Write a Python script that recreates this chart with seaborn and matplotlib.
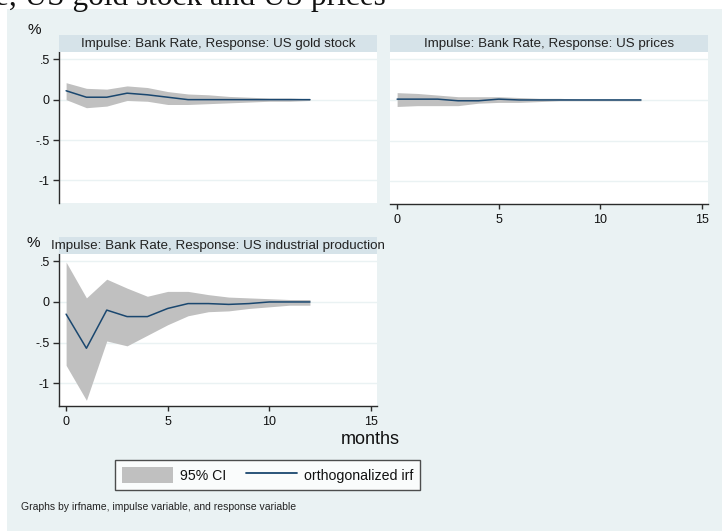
import matplotlib
matplotlib.use("Agg")
import matplotlib.pyplot as plt
from matplotlib.patches import Rectangle, Patch
from matplotlib.lines import Line2D
import seaborn as sns
import pandas as pd

# Impulse-response horizons (months)
steps = list(range(13))

# Response of US gold stock to a Bank Rate shock
gold_irf = [0.11, 0.03, 0.03, 0.08, 0.06, 0.03, 0.00, 0.00, 0.00, 0.00, 0.00, 0.00, 0.00]
gold_hi = [0.21, 0.14, 0.13, 0.17, 0.15, 0.10, 0.07, 0.06, 0.04, 0.03, 0.02, 0.02, 0.01]
gold_lo = [0.00, -0.10, -0.08, -0.01, -0.02, -0.06, -0.06, -0.05, -0.04, -0.03, -0.02, -0.02, -0.01]

# Response of US prices
prices_irf = [0.01, 0.01, 0.01, -0.01, -0.01, 0.01, 0.00, 0.00, 0.00, 0.00, 0.00, 0.00, 0.00]
prices_hi = [0.09, 0.08, 0.06, 0.04, 0.04, 0.04, 0.03, 0.02, 0.02, 0.01, 0.01, 0.01, 0.01]
prices_lo = [-0.08, -0.07, -0.07, -0.07, -0.04, -0.03, -0.03, -0.02, -0.01, -0.01, -0.01, -0.01, -0.01]

# Response of US industrial production
ip_irf = [-0.15, -0.57, -0.10, -0.18, -0.18, -0.08, -0.02, -0.02, -0.03, -0.02, 0.00, 0.00, 0.00]
ip_hi = [0.49, 0.05, 0.28, 0.17, 0.07, 0.13, 0.13, 0.09, 0.06, 0.05, 0.04, 0.03, 0.03]
ip_lo = [-0.78, -1.21, -0.48, -0.54, -0.41, -0.28, -0.17, -0.12, -0.11, -0.08, -0.06, -0.04, -0.04]

panel_titles = [
    "Impulse: Bank Rate, Response: US gold stock",
    "Impulse: Bank Rate, Response: US prices",
    "Impulse: Bank Rate, Response: US industrial production",
]
y_ticks = [0.5, 0, -0.5, -1]
y_labels = [".5", "0", "-.5", "-1"]
x_ticks = [0, 5, 10, 15]
x_labels = ["0", "5", "10", "15"]

BG = "#EAF2F3"
STRIP = "#D6E3E9"
BAND = "#C0C0C0"
NAVY = "#1A476F"
GRID = "#EAF2F3"
AXC = "#2B2B2B"

sns.set_theme(style="white")
plt.rcParams["font.family"] = ["Liberation Sans", "DejaVu Sans"]

W, H = 722, 531
fig = plt.figure(figsize=(W / 100, H / 100), dpi=100, facecolor="white")


def fx(px):
    return px / W


def fy(py):
    return 1 - py / H


# Graph region background
fig.patches.append(Rectangle((fx(7), 0), 1 - fx(7), fy(9), transform=fig.transFigure,
                             facecolor=BG, edgecolor="none", zorder=-10))

# Document caption line above the graph
fig.text(fx(-5), fy(5), "e, US gold stock and US prices", family=["Liberation Serif", "DejaVu Serif"],
         fontsize=22.5, color="#111111", ha="left", va="baseline")

XLIM = (-0.35, 15.3)
YLIM = (-1.28, 0.59)


def make_panel(left, top, bottom, title, irf, lo, hi, show_y, show_x):
    ax = fig.add_axes([fx(left), fy(bottom), fx(318), (bottom - top) / H])
    ax.set_facecolor("white")
    df = pd.DataFrame({"step": steps, "irf": irf, "lo": lo, "hi": hi})
    ax.fill_between(df["step"], df["lo"], df["hi"], color=BAND, linewidth=0, zorder=2)
    sns.lineplot(data=df, x="step", y="irf", ax=ax, color=NAVY, linewidth=1.1, zorder=3)
    ax.set_xlim(*XLIM)
    ax.set_ylim(*YLIM)
    ax.set_xlabel("")
    ax.set_ylabel("")
    for yv in y_ticks:
        ax.axhline(yv, color=GRID, linewidth=1.0, zorder=1)
    for side in ["top", "right"]:
        ax.spines[side].set_visible(False)
    ax.spines["left"].set_visible(show_y)
    ax.spines["bottom"].set_visible(show_x)
    ax.spines["left"].set_color(AXC)
    ax.spines["bottom"].set_color(AXC)
    ax.spines["left"].set_linewidth(1.0)
    ax.spines["bottom"].set_linewidth(1.0)
    if show_y:
        ax.set_yticks(y_ticks)
        ax.set_yticklabels(y_labels)
        ax.tick_params(axis="y", left=True, length=4.5, width=1.0, color=AXC,
                       labelsize=9, labelcolor="#111111", pad=2)
    else:
        ax.set_yticks([])
    if show_x:
        ax.set_xticks(x_ticks)
        ax.set_xticklabels(x_labels)
        ax.tick_params(axis="x", bottom=True, length=3.5, width=1.0, color=AXC,
                       labelsize=9, labelcolor="#111111", pad=4)
    else:
        ax.set_xticks([])
    # Title strip
    strip = fig.add_axes([fx(left), fy(top), fx(318), 17 / H])
    strip.set_facecolor(STRIP)
    strip.set_xticks([])
    strip.set_yticks([])
    for s in strip.spines.values():
        s.set_visible(False)
    strip.text(0.5, 0.45, title, ha="center", va="center", fontsize=9.6,
               color="#222222", transform=strip.transAxes, clip_on=False)
    return ax


make_panel(59, 52, 203, panel_titles[0], gold_irf, gold_lo, gold_hi, True, False)
make_panel(390, 52, 204, panel_titles[1], prices_irf, prices_lo, prices_hi, False, True)
make_panel(59, 254, 406, panel_titles[2], ip_irf, ip_lo, ip_hi, True, True)

fig.text(fx(34), fy(30), "%", ha="center", va="center", fontsize=11, color="#111111")
fig.text(fx(33), fy(243), "%", ha="center", va="center", fontsize=11, color="#111111")
fig.text(fx(370), fy(440), "months", ha="center", va="center", fontsize=13, color="#111111")

handles = [Patch(facecolor=BAND, edgecolor="none"),
           Line2D([0], [0], color=NAVY, linewidth=1.3)]
leg = fig.legend(handles, ["95% CI", "orthogonalized irf"], loc="center",
                 bbox_to_anchor=(fx(267.5), fy(475)), ncol=2, fontsize=10.2,
                 frameon=True, fancybox=False, edgecolor="#222222",
                 handlelength=3.6, handleheight=1.4, handletextpad=0.5,
                 columnspacing=1.4, borderpad=0.5, borderaxespad=0)
leg.get_frame().set_linewidth(1.0)
leg.get_frame().set_facecolor("white")
for t in leg.get_texts():
    t.set_color("#111111")

fig.text(fx(21), fy(507), "Graphs by irfname, impulse variable, and response variable",
         ha="left", va="center", fontsize=7.5, color="#222222")

fig.savefig("out.png", dpi=100, facecolor=fig.get_facecolor())
